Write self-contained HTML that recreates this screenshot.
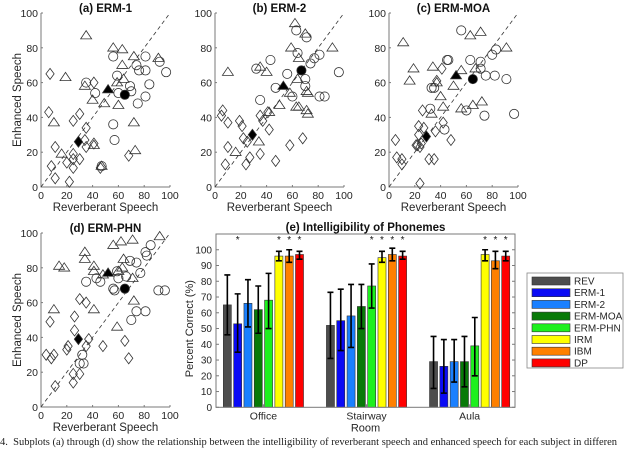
<!DOCTYPE html>
<html><head><meta charset="utf-8"><style>
html,body{margin:0;padding:0;background:#fff;width:640px;height:452px;overflow:hidden}
svg{display:block;font-family:"Liberation Sans",sans-serif}
#cap{position:absolute;left:0;top:437px;width:640px;white-space:nowrap;overflow:hidden;font:10.5px "Liberation Serif",serif;color:#222}
</style></head><body>
<svg id="fig" width="640" height="452" viewBox="0 0 640 452"></svg>
<div id="cap">4.&nbsp; Subplots (a) through (d) show the relationship between the intelligibility of reverberant speech and enhanced speech for each subject in differen</div>
<script>
// ---- scatter data: [x, y] pairs ----
const aDiamonds=[[7,65],[6,43],[11,23],[8,12],[11,5],[22,3],[20,14],[25,19],[25,16],[25,11],[30,16],[30,42],[25,38],[35,34],[34,27],[35,23],[41,25],[41,60],[46,11],[68,18]];
const aTriangles=[[35,87],[19,63],[10,37],[16,19],[34,58],[40,50],[41,24],[47,12],[56,80],[63,79],[49,48],[59,60],[63,70],[64,62],[72,75],[72,37],[73,21],[91,74],[60,47]];
const aCircles=[[56,75],[35,60],[42,54],[56,36],[57,27],[59,64],[60,54],[69,58],[70,55],[74,70],[76,67],[81,67],[81,75],[75,48],[81,52],[84,59],[92,72],[97,66],[47,12]];
const aMeans=[[29,26],[52,56],[65,53]];
const bDiamonds=[[6,44],[5,41],[10,37],[10,23],[8,13],[19,38],[21,35],[22,28],[25,26],[24,13],[27,17],[35,41],[37,38],[35,19],[41,43],[42,33],[47,15],[58,24],[68,28]];
const bTriangles=[[10,66],[16,20],[34,26],[35,69],[40,66],[42,43],[50,47],[58,54],[59,80],[63,46],[62,94],[65,74],[64,62],[65,46],[70,88],[71,55],[71,44],[91,80],[72,54],[72,42]];
const bCircles=[[63,90],[64,77],[35,50],[32,68],[43,73],[47,57],[56,65],[60,52],[70,62],[71,86],[81,76],[77,74],[74,71],[96,66],[81,52],[85,52],[70,58]];
const bMeans=[[29,30],[53,58],[67,67]];
const cDiamonds=[[5,27],[6,17],[10,16],[10,13],[26,44],[23,35],[22,24],[24,23],[24,2],[31,16],[35,16],[36,32],[41,68],[37,61],[42,37],[48,27],[27,34],[23,30],[21,24],[25,25]];
const cTriangles=[[11,83],[19,68],[16,61],[34,69],[37,60],[33,42],[40,52],[42,46],[63,87],[71,89],[91,80],[67,68],[56,67],[50,58],[56,45],[65,47],[72,49]];
const cCircles=[[33,57],[35,57],[32,45],[43,33],[45,73],[56,90],[46,73],[63,73],[71,68],[75,64],[82,64],[91,62],[97,42],[74,41],[60,44],[80,76],[83,79],[71,72]];
const cMeans=[[29,29],[52,64],[65,62]];
const dDiamonds=[[7,49],[4,30],[8,28],[10,30],[11,12],[21,35],[20,33],[26,52],[26,44],[25,19],[25,14],[30,19],[30,62],[35,60],[37,39],[35,35],[48,35],[65,38],[68,28]];
const dTriangles=[[14,81],[18,80],[10,56],[34,89],[34,85],[41,81],[41,56],[56,93],[62,95],[71,96],[92,98],[64,85],[63,80],[48,76],[60,78],[71,74],[72,61],[59,46],[41,78]];
const dCircles=[[35,72],[43,74],[46,72],[56,68],[57,67],[59,78],[60,74],[66,75],[69,84],[74,83],[77,77],[81,89],[85,93],[82,87],[70,50],[74,55],[81,55],[91,67],[96,67],[32,30],[33,25],[30,25]];
const dMeans=[[29,39],[52,77],[65,68]];
const scatterTicks=[0,20,40,60,80,100];
// ---- bar data ----
const rooms=["Office","Stairway","Aula"];
const methods=["REV","ERM-1","ERM-2","ERM-MOA","ERM-PHN","IRM","IBM","DP"];
const colors=["#4d4d4d","#0a0af5","#1a80ff","#087a08","#1ef01e","#ffff00","#ff8000","#ff0000"];
const office=[65,53,66,62,68,96,96,97];
const officeHi=[84,72,81,77,85,99,100,99];
const officeLo=[46,35,51,47,50,93,92,94];
const stairway=[52,55,58,64,77,95,97,96];
const stairwayHi=[73,75,78,78,91,99,101,99];
const stairwayLo=[31,36,38,50,63,92,93,94];
const aula=[29,26,29,29,39,97,93,96];
const aulaHi=[45,43,43,45,57,100,99,99];
const aulaLo=[12,9,16,13,20,93,88,93];
const officeStars=[0,1,0,0,0,1,1,1];
const stairwayStars=[0,0,0,0,1,1,1,1];
const aulaStars=[0,0,0,0,0,1,1,1];
const barTicks=[0,10,20,30,40,50,60,70,80,90,100];

const NS="http://www.w3.org/2000/svg";
const svg=document.getElementById('fig');
function mk(tag,attrs,parent,txt){const e=document.createElementNS(NS,tag);for(const k in attrs)e.setAttribute(k,attrs[k]);if(txt!==undefined)e.textContent=txt;(parent||svg).appendChild(e);return e;}
const AX="#7a7a7a",TX="#262626";

function scatter(id,title,x0,yTop,diam,tri,circ,means,xlabel,ylabel){
  const g=mk('g',{});
  
  
  const W=129,H=174,yB=yTop+H;
  const sx=v=>x0+v/100*W, sy=v=>yB-v/100*H;
  const t=mk('text',{x:x0+W/2,y:yTop-1,'text-anchor':'middle','font-size':'11.5','font-weight':'bold',fill:'#111'},g,title);
  
  
  const ax=mk('path',{d:`M${x0},${yTop}V${yB}H${x0+W}`,stroke:AX,fill:'none','stroke-width':1},g);
  
  
  scatterTicks.forEach(v=>{
    mk('line',{x1:sx(v),x2:sx(v),y1:yB,y2:yB-2,stroke:AX},g);
    mk('line',{x1:x0,x2:x0+2,y1:sy(v),y2:sy(v),stroke:AX},g);
    const xt=mk('text',{x:sx(v),y:yB+12,'text-anchor':'middle','font-size':'10.5',fill:TX},g,v);
    
    
    const yt=mk('text',{x:x0-3,y:sy(v)+4,'text-anchor':'end','font-size':'10.5',fill:TX},g,v);
    
    
  });
  const dl=mk('line',{x1:sx(0),y1:sy(0),x2:sx(100),y2:sy(100),stroke:'#333','stroke-dasharray':'4,3','stroke-width':0.8},g);
  
  
  const st={fill:'none',stroke:'#333','stroke-width':0.8};
  function dia(p,f){const x=sx(p[0]),y=sy(p[1]),r=5.5;const e=mk('path',Object.assign({},st,{d:`M${x},${y-r}L${x+r*0.75},${y}L${x},${y+r}L${x-r*0.75},${y}Z`,fill:f||'none'}),g);}
  function trg(p,f){const x=sx(p[0]),y=sy(p[1]),r=5;const e=mk('path',Object.assign({},st,{d:`M${x},${y-r}L${x+r*1.1},${y+r*0.65}L${x-r*1.1},${y+r*0.65}Z`,fill:f||'none'}),g);}
  function cir(p,f){const e=mk('circle',Object.assign({},st,{cx:sx(p[0]),cy:sy(p[1]),r:4.6,fill:f||'none'}),g);}
  diam.forEach(p=>dia(p));tri.forEach(p=>trg(p));circ.forEach(p=>cir(p));
  dia(means[0],'#000');trg(means[1],'#000');cir(means[2],'#000');
  if(xlabel){const e=mk('text',{x:x0+W/2,y:yB+24,'text-anchor':'middle','font-size':'11.5',fill:TX},g,'Reverberant Speech');}
  if(ylabel){const cy=yTop+H/2;const e=mk('text',{x:0,y:0,transform:`translate(21,${cy}) rotate(-90)`,'text-anchor':'middle','font-size':'11.5',fill:TX},g,'Enhanced Speech');}
}
scatter('a','(a) ERM-1',41,13,aDiamonds,aTriangles,aCircles,aMeans,true,true);
scatter('b','(b) ERM-2',215,13,bDiamonds,bTriangles,bCircles,bMeans,true,false);
scatter('c','(c) ERM-MOA',389,13,cDiamonds,cTriangles,cCircles,cMeans,true,false);
scatter('d','(d) ERM-PHN',41,233,dDiamonds,dTriangles,dCircles,dMeans,true,true);

// ---- bar chart ----
(function(){
  const g=mk('g',{});
  
  
  const L=216,R=515,T=234,B=407.3,xmin=0.54,xmax=3.44,ymax=110;
  const sx=v=>L+(v-xmin)/(xmax-xmin)*(R-L), sy=v=>B-v/ymax*(B-T);
  const t=mk('text',{x:(L+R)/2,y:T-3,'text-anchor':'middle','font-size':'11.5','font-weight':'bold',fill:'#111'},g,'(e) Intelligibility of Phonemes');
  
  
  const vals=[office,stairway,aula],his=[officeHi,stairwayHi,aulaHi],los=[officeLo,stairwayLo,aulaLo],stars=[officeStars,stairwayStars,aulaStars];
  const step=0.1,bw=0.078;
  rooms.forEach((room,ri)=>{
    methods.forEach((m,mi)=>{
      const c=ri+1+(mi-3.5)*step;
      const r=mk('rect',{x:sx(c-bw/2),y:sy(vals[ri][mi]),width:sx(c+bw/2)-sx(c-bw/2),height:B-sy(vals[ri][mi]),fill:colors[mi],stroke:'#333','stroke-width':0.6},g);
      
      
      const x=sx(c),cw=3;
      const eb=mk('path',{d:`M${x},${sy(his[ri][mi])}V${sy(los[ri][mi])}M${x-cw},${sy(his[ri][mi])}H${x+cw}M${x-cw},${sy(los[ri][mi])}H${x+cw}`,stroke:'#000','stroke-width':1.6,fill:'none'},g);
      
      
      if(stars[ri][mi]){const s=mk('text',{x:x,y:T+9,'text-anchor':'middle','font-size':'10',fill:'#111'},g,'*');}
    });
    const lt=mk('text',{x:sx(ri+1),y:B+12,'text-anchor':'middle','font-size':'10.5',fill:TX},g,room);
    
    
    mk('line',{x1:sx(ri+1),x2:sx(ri+1),y1:B,y2:B-3,stroke:AX},g);
  });
  const box=mk('rect',{x:L,y:T,width:R-L,height:B-T,fill:'none',stroke:AX,'stroke-width':1},g);
  
  
  barTicks.forEach(v=>{
    mk('line',{x1:L,x2:L+3,y1:sy(v),y2:sy(v),stroke:AX},g);
    mk('line',{x1:R,x2:R-3,y1:sy(v),y2:sy(v),stroke:AX},g);
    const yt=mk('text',{x:L-4,y:sy(v)+3.5,'text-anchor':'end','font-size':'10',fill:TX},g,v);
    
    
  });
  const yl=mk('text',{x:0,y:0,transform:`translate(193,${(T+B)/2+8}) rotate(-90)`,'text-anchor':'middle','font-size':'11',fill:TX},g,'Percent Correct (%)');
  
  
  const xl=mk('text',{x:(L+R)/2,y:B+24,'text-anchor':'middle','font-size':'11',fill:TX},g,'Room');
  
  
  // legend
  const lg=mk('g',{},g);
  
  
  mk('rect',{x:527,y:273,width:96,height:95,fill:'#fff',stroke:'#888','stroke-width':0.8},lg);
  methods.forEach((m,i)=>{
    const y=281+i*11.7;
    const e=mk('g',{},lg);
    
    
    mk('rect',{x:532,y:y-4,width:38,height:8,fill:colors[i],stroke:'#333','stroke-width':0.6},e);
    mk('text',{x:574,y:y+3.5,'font-size':'10',fill:TX},e,m);
  });
})();
</script>
</body></html>
